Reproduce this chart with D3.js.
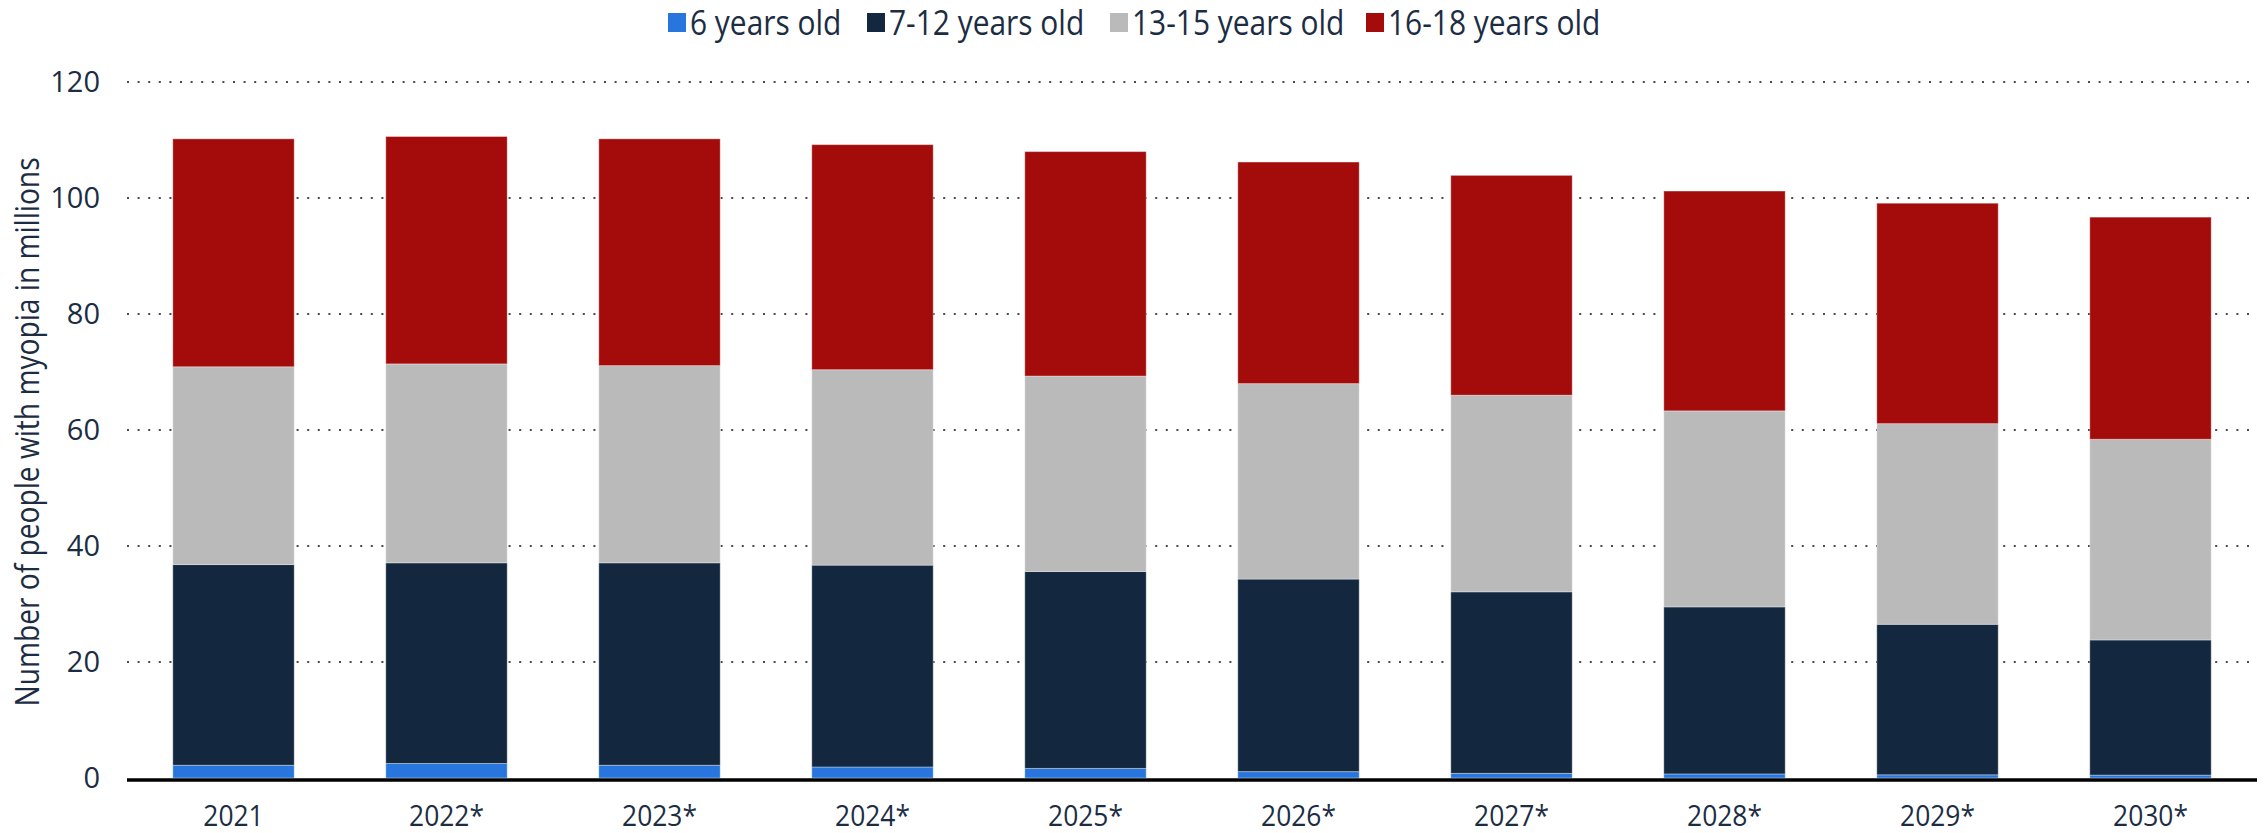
<!DOCTYPE html>
<html><head><meta charset="utf-8">
<script src="https://cdn.jsdelivr.net/npm/d3@7"></script>
<style>
body{margin:0;background:#fff;}
text{font-family:"Open Sans",sans-serif;fill:#1c2d43;}
</style></head>
<body><svg id="c" width="2266" height="833"></svg>
<script>
const years = ["2021","2022*","2023*","2024*","2025*","2026*","2027*","2028*","2029*","2030*"];
const seriesNames = ["6 years old","7-12 years old","13-15 years old","16-18 years old"];
const age6 = [2.2, 2.5, 2.2, 1.9, 1.65, 1.1, 0.8, 0.7, 0.55, 0.5];
const age7_12 = [34.6, 34.6, 34.9, 34.8, 33.95, 33.2, 31.3, 28.8, 25.95, 23.3];
const age13_15 = [34.1, 34.3, 34.0, 33.7, 33.7, 33.7, 33.9, 33.8, 34.6, 34.6];
const age16_18 = [39.3, 39.2, 39.1, 38.8, 38.7, 38.2, 37.9, 37.9, 38.0, 38.3];
const yTicks = [0, 20, 40, 60, 80, 100, 120];
const colors = ["#2876dd", "#13283e", "#bababa", "#a40c0c"];

const SX = 0.88; // semi-condensed look
const svg = d3.select("#c");
const m = {l:127, r:2257, t:82, b:778};
const x = d3.scaleBand().domain(years).range([m.l, m.r]).paddingInner(0.43).paddingOuter(0.215);
const y = d3.scaleLinear().domain([0,120]).range([m.b, m.t]);

const rows = years.map((yr,i)=>({year:yr, a:age6[i], b:age7_12[i], c:age13_15[i], d:age16_18[i]}));
const keys = ["a","b","c","d"];
const stack = d3.stack().keys(keys)(rows);

// gridlines
svg.append("g").selectAll("line").data(yTicks.filter(t=>t>0)).join("line")
  .attr("x1", m.l).attr("x2", m.r)
  .attr("y1", d=>y(d)).attr("y2", d=>y(d))
  .attr("stroke", "#4a4a4a").attr("stroke-width", 2.2)
  .attr("stroke-dasharray", "2,8.6");

// y tick labels
const yAxis = d3.axisLeft(y).tickValues(yTicks).tickSize(0).tickPadding(0);
const ya = svg.append("g").attr("transform", `translate(100,0)`).call(yAxis);
ya.select(".domain").remove();
ya.selectAll("text").attr("font-size", 29).attr("font-family","Open Sans").attr("fill","#1c2d43").attr("dy","0.34em");

// bars
svg.append("g").selectAll("g").data(stack).join("g")
  .attr("fill", (d,i)=>colors[i])
  .selectAll("rect").data(d=>d).join("rect")
  .attr("x", d=>x(d.data.year))
  .attr("width", x.bandwidth())
  .attr("y", d=>y(d[1]))
  .attr("height", d=>y(d[0]) - y(d[1]))
  .attr("stroke", "rgba(255,255,255,0.35)").attr("stroke-width", 1);

// baseline
svg.append("line").attr("x1", m.l).attr("x2", m.r).attr("y1", y(0)+2).attr("y2", y(0)+2)
  .attr("stroke", "#000").attr("stroke-width", 3.5);

// x labels
const xAxis = d3.axisBottom(x).tickSize(0).tickPadding(0);
const xa = svg.append("g").attr("transform", `translate(0,815)`).call(xAxis);
xa.select(".domain").remove();
xa.selectAll("text").attr("font-size", 30).attr("font-family","Open Sans")
  .attr("fill","#1c2d43").attr("dy","0.35em").attr("transform", `scale(${SX},1)`);

// y title
svg.append("g").attr("transform", "translate(28,432) rotate(-90)")
  .append("text").attr("transform", `scale(${SX},1)`)
  .attr("text-anchor","middle").attr("dy","0.35em")
  .attr("font-size", 32).text("Number of people with myopia in millions");

// legend
const legX = [668, 867, 1110, 1366];
const lg = svg.append("g").selectAll("g").data(seriesNames).join("g")
  .attr("transform", (d,i)=>`translate(${legX[i]},13)`);
lg.append("rect").attr("width", 18).attr("height", 19).attr("fill", (d,i)=>colors[i]);
lg.append("g").attr("transform", `translate(22,10) scale(${SX},1)`)
  .append("text").attr("dy","0.35em").attr("font-size", 34).text(d=>d);
</script></body></html>
